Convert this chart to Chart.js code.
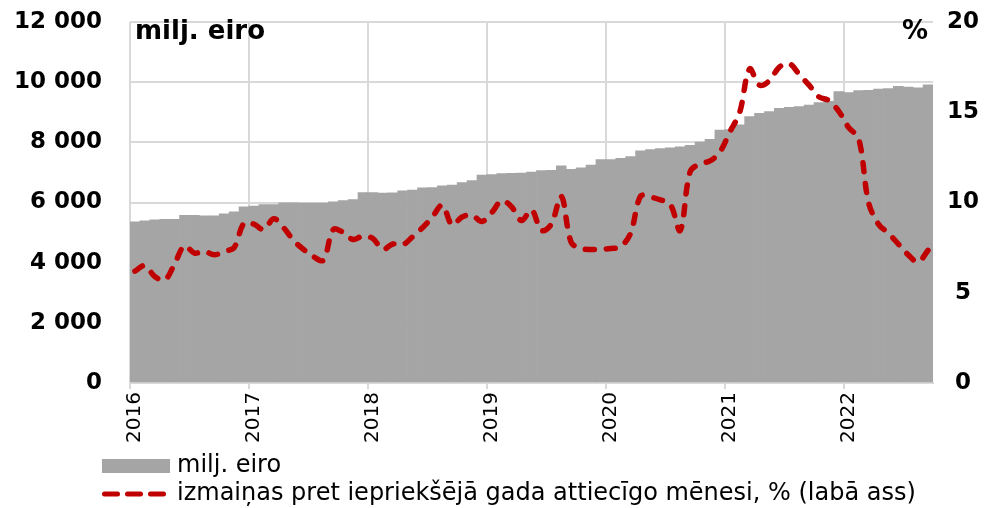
<!DOCTYPE html>
<html>
  <head>
    <meta charset="UTF-8">
    <title></title>
    <style>
      body { margin: 0; background: #fff; }
    </style>
  </head>
  <body>
    <canvas id="chart" width="995" height="508"></canvas>
  </body>
  <script src="https://cdn.jsdelivr.net/npm/chart.js@4/dist/chart.umd.min.js"></script>
  <script>
    const years = ['2016', '2017', '2018', '2019', '2020', '2021', '2022'];
    const seriesNames = ['milj. eiro', 'izmaiņas pret iepriekšējā gada attiecīgo mēnesi, % (labā ass)'];
    const axisTitles = ['milj. eiro', '%'];
    // milj. eiro, monthly
    const amounts = [
      5360, 5390, 5420, 5440, 5440, 5570, 5570, 5560, 5560, 5620, 5690, 5860,
      5880, 5930, 5930, 5990, 5990, 5980, 5980, 5980, 6020, 6060, 6100, 6330,
      6330, 6310, 6320, 6390, 6410, 6490, 6500, 6550, 6580, 6660, 6730, 6910,
      6930, 6960, 6970, 6980, 7010, 7060, 7070, 7220, 7100, 7150, 7240, 7430,
      7430, 7470, 7530, 7720, 7760, 7790, 7820, 7850, 7900, 8010, 8100, 8410,
      8420, 8580, 8860, 8960, 9020, 9130, 9160, 9190, 9240, 9320, 9360, 9690,
      9650, 9720, 9730, 9770, 9790, 9860, 9840, 9810, 9910
    ];
    // % change y/y
    const change = [
      6.2, 6.5, 5.9, 5.7, 6.6, 7.6, 7.2, 7.3, 7.1, 7.3, 7.5, 8.85,
      8.8, 8.5, 9.1, 8.6, 7.9, 7.4, 7.0, 6.8, 8.5, 8.35, 7.95, 8.15,
      8.0, 7.4, 7.7, 7.65, 8.1, 8.6, 9.2, 9.85, 8.75, 9.2, 9.3, 8.95,
      9.45, 10.1, 9.75, 9.0, 9.6, 8.45, 8.8, 10.35, 7.8, 7.45, 7.4, 7.4,
      7.45, 7.55, 8.3, 10.35, 10.3, 10.15, 9.9, 8.45, 11.7, 12.15, 12.3, 12.8,
      13.9, 15.0, 17.4, 16.5, 16.75, 17.5, 17.7, 17.1, 16.5, 15.85, 15.65, 15.05,
      14.15, 13.55, 10.0, 8.8, 8.3, 7.7, 7.1, 6.7, 7.35
    ];

    const months = [];
    years.forEach(y => { for (let m = 1; m <= 12; m++) months.push(y + '-' + m); });
    const labels = months.slice(0, amounts.length);

    const barColor = '#A5A5A5';
    const lineColor = '#C00000';
    const gridColor = '#D9D9D9';
    const font = '"DejaVu Sans"';

    const overlayText = {
      id: 'overlayText',
      afterDraw(chart) {
        const ctx = chart.ctx;
        const a = chart.chartArea;
        ctx.save();
        ctx.fillStyle = '#000';
        ctx.font = 'bold 26px ' + font;
        ctx.textBaseline = 'alphabetic';
        ctx.textAlign = 'left';
        ctx.fillText(axisTitles[0], a.left + 5, a.top + 17);
        ctx.textAlign = 'right';
        ctx.fillText(axisTitles[1], a.right - 5, a.top + 17);

        // legend
        const lx = a.left - 28, y1 = 466, y2 = 494;
        ctx.fillStyle = barColor;
        ctx.fillRect(lx, y1 - 7, 68, 14);
        ctx.strokeStyle = lineColor;
        ctx.lineWidth = 5;
        ctx.lineCap = 'round';
        ctx.setLineDash([13, 10]);
        ctx.beginPath();
        ctx.moveTo(lx + 2.5, y2);
        ctx.lineTo(lx + 62, y2);
        ctx.stroke();
        ctx.setLineDash([]);
        ctx.fillStyle = '#000';
        ctx.font = '24px ' + font;
        ctx.textAlign = 'left';
        ctx.textBaseline = 'middle';
        ctx.fillText(seriesNames[0], lx + 75, y1);
        ctx.fillText(seriesNames[1], lx + 75, y2);
        ctx.restore();
      }
    };

    // fixed axis sizes, no extra label overflow at top/bottom
    function fixWidth(w) {
      return s => { s.width = w; s.paddingTop = 0; s.paddingBottom = 0; };
    }

    Chart.defaults.font.family = font;
    Chart.defaults.color = '#000';

    new Chart(document.getElementById('chart'), {
      type: 'bar',
      data: {
        labels: labels,
        datasets: [{
          type: 'line',
          label: seriesNames[1],
          data: change,
          yAxisID: 'y1',
          borderColor: lineColor,
          borderWidth: 5.5,
          borderDash: [9, 12],
          borderCapStyle: 'round',
          pointRadius: 0,
          tension: 0.35,
          fill: false,
          order: 0
        }, {
          label: seriesNames[0],
          data: amounts,
          yAxisID: 'y',
          backgroundColor: barColor,
          borderWidth: 0,
          barPercentage: 1,
          categoryPercentage: 1,
          order: 1
        }]
      },
      options: {
        responsive: false,
        animation: false,
        devicePixelRatio: 1,
        layout: { padding: { top: 22, bottom: 65, left: 0, right: 0 } },
        plugins: { legend: { display: false }, tooltip: { enabled: false } },
        scales: {
          x: {
            offset: true,
            grid: {
              offset: true,
              lineWidth: 2,
              tickLength: 6,
              color: c => (c.index % 12 === 0 ? gridColor : 'rgba(0,0,0,0)')
            },
            border: { color: gridColor, width: 2 },
            ticks: {
              autoSkip: false,
              minRotation: 90,
              maxRotation: 90,
              padding: 3,
              font: { size: 20 },
              callback: (v, i) => (i % 12 === 0 ? years[i / 12] : '')
            },
            afterFit: s => { s.height = 60; }
          },
          y: {
            position: 'left',
            min: 0,
            max: 12000,
            grid: { color: gridColor, lineWidth: 2, drawTicks: false },
            border: { display: false },
            ticks: {
              stepSize: 2000,
              padding: 28,
              font: { size: 23, weight: 'bold' },
              callback: v => String(v).replace(/\B(?=(\d{3})+(?!\d))/g, ' ')
            },
            afterFit: fixWidth(130)
          },
          y1: {
            position: 'right',
            min: 0,
            max: 20,
            grid: { display: false, drawTicks: false },
            border: { display: false },
            ticks: {
              stepSize: 5,
              padding: 14,
              crossAlign: 'center',
              font: { size: 23, weight: 'bold' }
            },
            afterFit: fixWidth(62)
          }
        }
      },
      plugins: [overlayText]
    });
  </script>
</html>
